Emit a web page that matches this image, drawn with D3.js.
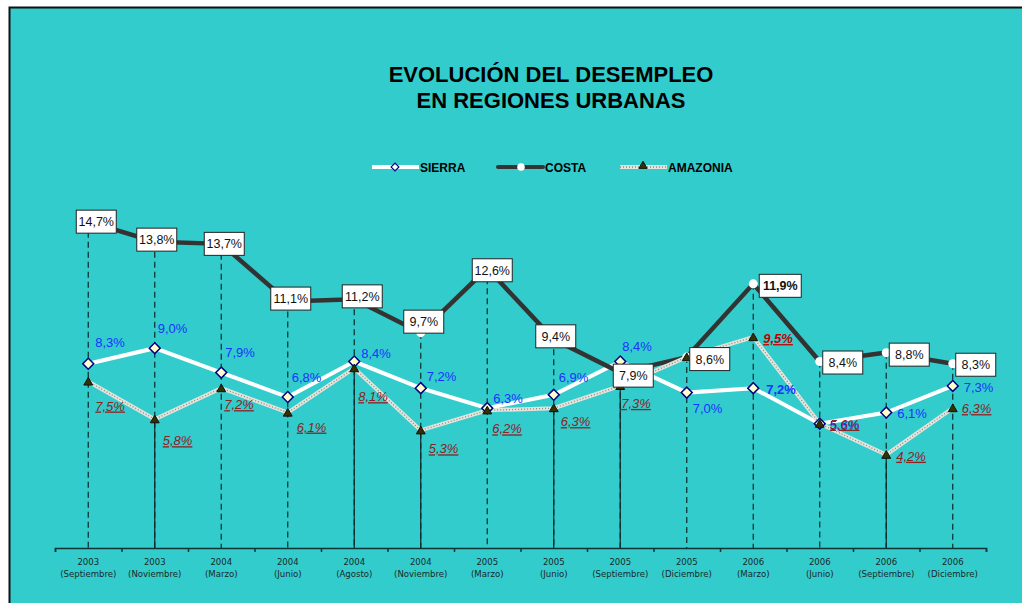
<!DOCTYPE html>
<html>
<head>
<meta charset="utf-8">
<script src="https://cdn.jsdelivr.net/npm/d3@7"></script>
<style>
  html, body { margin: 0; padding: 0; background: #fff; }
  svg { display: block; font-family: "Liberation Sans", Arial, sans-serif; }
</style>
</head>
<body>
<svg id="chart" width="1022" height="603"></svg>
<script>
// datos
var years  = ["2003","2003","2004","2004","2004","2004","2005","2005","2005","2005","2006","2006","2006","2006"];
var months = ["Septiembre","Noviembre","Marzo","Junio","Agosto","Noviembre","Marzo","Junio","Septiembre","Diciembre","Marzo","Junio","Septiembre","Diciembre"];
var sierra   = [8.3, 9.0, 7.9, 6.8, 8.4, 7.2, 6.3, 6.9, 8.4, 7.0, 7.2, 5.6, 6.1, 7.3];
var costa    = [14.7, 13.8, 13.7, 11.1, 11.2, 9.7, 12.6, 9.4, 7.9, 8.6, 11.9, 8.4, 8.8, 8.3];
var amazonia = [7.5, 5.8, 7.2, 6.1, 8.1, 5.3, 6.2, 6.3, 7.3, 8.6, 9.5, 5.6, 4.2, 6.3];

// ubicacion de etiquetas (dx, dy) a mano
var costaLab    = [[8,0],[2,-2],[3,0],[3,-3],[8,-3],[3,-11],[5,2],[2,-3],[13,3],[23,2],[27,2],[23,1],[23,2],[23,1]];
var sierraLab   = [[7,-17],[3,-15],[4,-16],[4,-15],[7,-4],[6,-7],[6,-5],[5,-13],[2,-11],[6,20],[13,6],[10,6],[11,5],[11,6]];
var amazoniaLab = [[7,29],[8,26],[3,21],[9,19],[4,33],[8,23],[5,23],[7,18],[1,22],null,[10,6],[10,5],[10,6],[9,5]];
var solidDrops  = [1,4,5,7,8,12];
var boldIdx = 10;

var fmt = v => d3.format(".1f")(v).replace(".", ",") + "%";

var svg = d3.select("#chart");

// fondo y marco
svg.append("rect").attr("x", 9).attr("y", 7).attr("width", 1013).attr("height", 596)
   .attr("fill", "#33CCCC");
svg.append("path").attr("d", "M9.5,603 V7.5 H1022")
   .attr("fill", "none").attr("stroke", "#111").attr("stroke-width", 2);

// titulo
var title = svg.append("text").attr("text-anchor", "middle")
   .style("font-weight", "bold").style("font-size", "22px").attr("fill", "#000");
title.append("tspan").attr("x", 551).attr("y", 82).text("EVOLUCIÓN DEL DESEMPLEO");
title.append("tspan").attr("x", 551).attr("y", 108).text("EN REGIONES URBANAS");

var x = d3.scaleBand().domain(d3.range(years.length)).range([55, 986]);
var xb = d3.scaleLinear().domain([0, years.length]).range([55, 986]);
var y = d3.scaleLinear().domain([0, 15]).range([548, 215]);
var cx = i => x(i) + x.bandwidth() / 2;

// eje
var axisG = svg.append("g").attr("transform", "translate(0,548)");
axisG.call(d3.axisBottom(xb).ticks(years.length).tickSize(4).tickFormat(""));
axisG.select(".domain").attr("stroke", "#113333").attr("stroke-width", 1.5);
axisG.selectAll(".tick line").attr("stroke", "#113333").attr("stroke-width", 1.5);

var labG = svg.append("g").attr("transform", "translate(0,548)");
labG.call(d3.axisBottom(x).tickSize(0).tickFormat(""));
labG.select(".domain").remove();
labG.selectAll(".tick").each(function(i) {
  var t = d3.select(this).append("text").attr("fill", "#1a2a2a")
     .style("font-family", "'Liberation Sans Narrow', 'DejaVu Sans Condensed', sans-serif")
     .style("font-size", "9.5px").attr("text-anchor", "middle");
  t.append("tspan").attr("x", 0).attr("y", 17).text(years[i]);
  t.append("tspan").attr("x", 0).attr("y", 29).text("(" + months[i] + ")");
});

// lineas de caida
var drops = svg.append("g");
drops.selectAll("line.dash").data(costa).join("line")
  .attr("x1", (d, i) => cx(i)).attr("x2", (d, i) => cx(i))
  .attr("y1", d => y(d)).attr("y2", 548)
  .attr("stroke", "#0a2a2a").attr("stroke-width", 1.2).attr("stroke-dasharray", "6,4");
drops.selectAll("line.solid").data(solidDrops).join("line")
  .attr("x1", i => cx(i)).attr("x2", i => cx(i))
  .attr("y1", i => y(amazonia[i])).attr("y2", 548)
  .attr("stroke", "#0a2a2a").attr("stroke-width", 1.2);

var line = d3.line().x((d, i) => cx(i)).y(d => y(d));

// series
svg.append("path").datum(sierra).attr("d", line)
  .attr("fill", "none").attr("stroke", "#fff").attr("stroke-width", 4);
svg.append("path").datum(costa).attr("d", line)
  .attr("fill", "none").attr("stroke", "#333").attr("stroke-width", 4.5);
svg.append("path").datum(amazonia).attr("d", line)
  .attr("fill", "none").attr("stroke", "#e4e4dc").attr("stroke-width", 4);
svg.append("path").datum(amazonia).attr("d", line)
  .attr("fill", "none").attr("stroke", "#8c8c84").attr("stroke-width", 1.3).attr("stroke-dasharray", "1,2");

var diamond = d3.symbol().type(d3.symbolSquare).size(60);
var tri = d3.symbol().type(d3.symbolTriangle).size(34);

svg.append("g").selectAll("circle").data(costa).join("circle")
  .attr("cx", (d, i) => cx(i)).attr("cy", d => y(d)).attr("r", 4.5)
  .attr("fill", "#fff");
svg.append("g").selectAll("path").data(sierra).join("path")
  .attr("d", diamond)
  .attr("transform", (d, i) => `translate(${cx(i)},${y(d)}) rotate(45)`)
  .attr("fill", "#FFFFCC").attr("stroke", "#000080").attr("stroke-width", 1.5);
svg.append("g").selectAll("path").data(amazonia).join("path")
  .attr("d", tri)
  .attr("transform", (d, i) => `translate(${cx(i)},${y(d) + 1})`)
  .attr("fill", "#333300").attr("stroke", "#111").attr("stroke-width", 1);

// etiquetas
svg.append("g").selectAll("text").data(sierra).join("text")
  .attr("x", (d, i) => cx(i) + sierraLab[i][0]).attr("y", (d, i) => y(d) + sierraLab[i][1])
  .attr("fill", "#1a33ff").style("font-size", "13px")
  .style("font-weight", (d, i) => i === boldIdx ? "bold" : null)
  .text(fmt);

var amzIdx = d3.range(amazonia.length).filter(i => amazoniaLab[i]);
svg.append("g").selectAll("text").data(amzIdx).join("text")
  .attr("x", i => cx(i) + amazoniaLab[i][0])
  .attr("y", i => y(amazonia[i]) + amazoniaLab[i][1])
  .attr("fill", i => i === boldIdx ? "#c00000" : "#8b2323")
  .style("font-size", "13px").style("font-style", "italic")
  .style("text-decoration", "underline")
  .style("font-weight", i => i === boldIdx ? "bold" : null)
  .text(i => fmt(amazonia[i]));

var cl = svg.append("g").selectAll("g").data(costa).join("g")
  .attr("transform", (d, i) => `translate(${cx(i) + costaLab[i][0]},${y(d) + costaLab[i][1]})`);
cl.append("rect").attr("x", (d, i) => i === boldIdx ? -21 : -20).attr("y", -11.5)
  .attr("width", (d, i) => i === boldIdx ? 42 : 40).attr("height", 23)
  .attr("fill", "#fff").attr("stroke", "#222").attr("stroke-width", 1);
cl.append("text").attr("text-anchor", "middle").attr("y", 4.5)
  .style("font-size", "12.5px").attr("fill", "#111")
  .style("font-weight", (d, i) => i === boldIdx ? "bold" : null)
  .text(fmt);

// leyenda
var leg = svg.append("g").style("font-size", "12px").style("font-weight", "bold");
var l1 = leg.append("g");
l1.append("line").attr("x1", 372).attr("x2", 419).attr("y1", 167).attr("y2", 167)
  .attr("stroke", "#fff").attr("stroke-width", 4);
l1.append("path").attr("d", d3.symbol().type(d3.symbolSquare).size(30))
  .attr("transform", "translate(395,167) rotate(45)")
  .attr("fill", "#fff").attr("stroke", "#000080").attr("stroke-width", 1.2);
l1.append("text").attr("x", 420).attr("y", 172).text("SIERRA");
var l2 = leg.append("g");
l2.append("line").attr("x1", 498).attr("x2", 543).attr("y1", 167).attr("y2", 167)
  .attr("stroke", "#333").attr("stroke-width", 4).attr("stroke-linecap", "round");
l2.append("circle").attr("cx", 521).attr("cy", 167).attr("r", 3.8).attr("fill", "#fff");
l2.append("text").attr("x", 545).attr("y", 172).text("COSTA");
var l3 = leg.append("g");
l3.append("line").attr("x1", 620).attr("x2", 667).attr("y1", 167).attr("y2", 167)
  .attr("stroke", "#e4e4dc").attr("stroke-width", 4);
l3.append("line").attr("x1", 620).attr("x2", 667).attr("y1", 167).attr("y2", 167)
  .attr("stroke", "#8c8c84").attr("stroke-width", 1.3).attr("stroke-dasharray", "1,2");
l3.append("path").attr("d", d3.symbol().type(d3.symbolTriangle).size(30))
  .attr("transform", "translate(643,166)").attr("fill", "#333300").attr("stroke", "#111");
l3.append("text").attr("x", 668).attr("y", 172).text("AMAZONIA");
</script>
</body>
</html>
